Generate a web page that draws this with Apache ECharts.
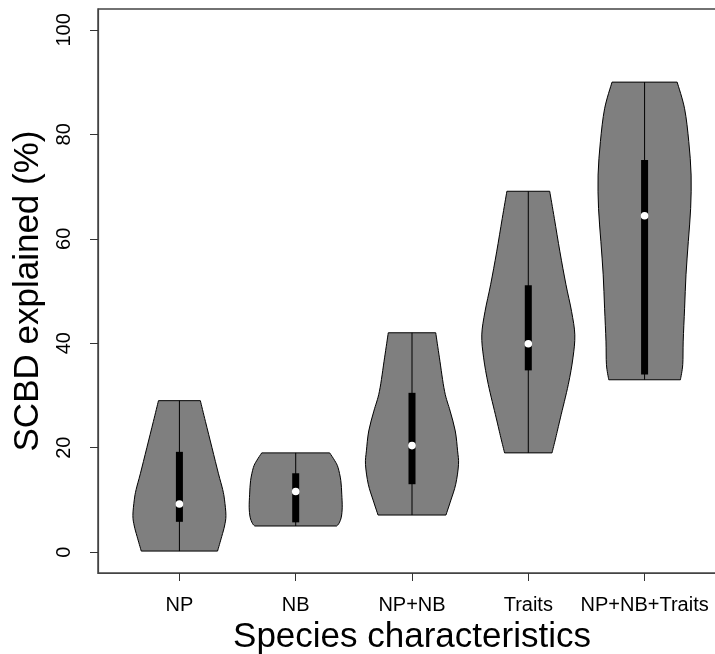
<!DOCTYPE html>
<html>
<head>
<meta charset="utf-8">
<script src="https://cdn.jsdelivr.net/npm/echarts@6/dist/echarts.min.js"></script>
<style>
html, body { margin: 0; padding: 0; background: #fff; }
#chart { width: 715px; height: 654px; }
</style>
</head>
<body>
<div id="chart"></div>
<script>
var categories = ['NP', 'NB', 'NP+NB', 'Traits', 'NP+NB+Traits'];
var yTicks = [0, 20, 40, 60, 80, 100];

// box-plot summary
var medians = [9.2, 11.6, 20.4, 39.9, 64.4];
var q1 = [5.8, 5.7, 13.0, 34.8, 34.0];
var q3 = [19.2, 15.1, 30.5, 51.1, 75.1];
var mins = [0.2, 5.0, 7.1, 19.0, 33.0];
var maxs = [29.0, 19.0, 42.0, 69.1, 90.0];

// violin outline: y values (top -> bottom) and relative half width (1 = widest)
var densY = [
  [29.0, 25.0, 20.0, 15.0, 12.0, 10.0, 7.0, 5.0, 3.0, 0.2],
  [19.0, 17.5, 16.2, 13.7, 11.1, 8.6, 6.7, 5.5, 5.0],
  [42.0, 37.2, 30.8, 27.0, 23.2, 19.4, 16.8, 13.0, 9.8, 7.1],
  [69.1, 63.9, 57.5, 51.2, 46.1, 41.6, 37.2, 32.1, 25.7, 21.9, 19.0],
  [90.0, 84.9, 78.6, 72.2, 65.8, 59.5, 53.1, 46.7, 40.4, 35.9, 33.0]
];
var densW = [
  [0.45, 0.56, 0.70, 0.84, 0.93, 0.97, 1.00, 0.97, 0.91, 0.82],
  [0.73, 0.84, 0.91, 0.97, 0.99, 1.00, 0.98, 0.93, 0.88],
  [0.51, 0.59, 0.70, 0.82, 0.93, 0.98, 1.00, 0.94, 0.83, 0.73],
  [0.46, 0.56, 0.68, 0.81, 0.93, 1.00, 0.96, 0.86, 0.69, 0.59, 0.51],
  [0.70, 0.86, 0.95, 1.00, 0.99, 0.94, 0.89, 0.86, 0.83, 0.82, 0.77]
];

var halfMax = 0.4; // widest half width, in x units
var fontName = '"Liberation Sans", Arial, sans-serif';

// smooth curve through points (catmull-rom as cubic bezier)
function curveThrough(pts) {
  var d = '';
  for (var i = 0; i < pts.length - 1; i++) {
    var p0 = pts[i - 1] || pts[i];
    var p1 = pts[i];
    var p2 = pts[i + 1];
    var p3 = pts[i + 2] || pts[i + 1];
    var c1x = p1[0] + (p2[0] - p0[0]) / 6, c1y = p1[1] + (p2[1] - p0[1]) / 6;
    var c2x = p2[0] - (p3[0] - p1[0]) / 6, c2y = p2[1] - (p3[1] - p1[1]) / 6;
    d += ' C' + c1x + ' ' + c1y + ' ' + c2x + ' ' + c2y + ' ' + p2[0] + ' ' + p2[1];
  }
  return d;
}

function renderViolin(params, api) {
  var k = params.dataIndex;
  var xc = api.value(0);
  var left = [], right = [];
  for (var j = 0; j < densY[k].length; j++) {
    left.push(api.coord([xc - densW[k][j] * halfMax, densY[k][j]]));
    right.push(api.coord([xc + densW[k][j] * halfMax, densY[k][j]]));
  }
  right.reverse();
  var d = 'M' + left[0][0] + ' ' + left[0][1] + curveThrough(left) +
    ' L' + right[0][0] + ' ' + right[0][1] + curveThrough(right) + ' Z';

  var top = api.coord([xc, maxs[k]]);
  var bot = api.coord([xc, mins[k]]);
  var b3 = api.coord([xc, q3[k]]);
  var b1 = api.coord([xc, q1[k]]);
  var med = api.coord([xc, medians[k]]);

  return {
    type: 'group',
    children: [
      { type: 'path', shape: { pathData: d },
        style: { fill: '#7f7f7f', stroke: '#000', lineWidth: 1 } },
      { type: 'line', shape: { x1: top[0], y1: top[1], x2: bot[0], y2: bot[1] },
        style: { stroke: '#000', lineWidth: 1 } },
      { type: 'rect', shape: { x: b3[0] - 3.5, y: b3[1], width: 7, height: b1[1] - b3[1] },
        style: { fill: '#000' } },
      { type: 'circle', shape: { cx: med[0], cy: med[1], r: 3.8 },
        style: { fill: '#fff' } }
    ]
  };
}

var chart = echarts.init(document.getElementById('chart'));
chart.setOption({
  animation: false,
  backgroundColor: '#fff',
  grid: {
    left: 98, top: 9, width: 628, height: 564,
    show: true, borderColor: '#444', borderWidth: 1.5,
    outerBoundsMode: 'none'
  },
  xAxis: {
    type: 'value',
    min: 0.3, max: 5.7,
    axisLine: { show: true, onZero: false, lineStyle: { color: '#444', width: 1.2 } },
    axisTick: { show: true, customValues: [1, 2, 3, 4, 5], length: 8, lineStyle: { color: '#333' } },
    axisLabel: {
      customValues: [1, 2, 3, 4, 5],
      formatter: function (v) { return categories[Math.round(v) - 1]; },
      fontSize: 20, color: '#000', fontFamily: fontName, margin: 22
    },
    splitLine: { show: false },
    name: 'Species characteristics',
    nameLocation: 'middle', nameGap: 39,
    nameTextStyle: { fontSize: 35, color: '#000', fontFamily: fontName }
  },
  yAxis: {
    type: 'value',
    min: -4, max: 104,
    axisLine: { show: true, onZero: false, lineStyle: { color: '#444', width: 1.2 } },
    axisTick: { show: true, customValues: yTicks, length: 8, lineStyle: { color: '#333' } },
    axisLabel: {
      customValues: yTicks, rotate: 90,
      fontSize: 20, color: '#000', fontFamily: fontName, margin: 24
    },
    splitLine: { show: false },
    name: 'SCBD explained (%)',
    nameLocation: 'middle', nameRotate: 90, nameGap: 45,
    nameTextStyle: { fontSize: 35, color: '#000', fontFamily: fontName }
  },
  series: [{
    type: 'custom',
    renderItem: renderViolin,
    encode: { x: 0, y: 1 },
    data: categories.map(function (c, i) { return [i + 1, medians[i]]; })
  }]
});
</script>
</body>
</html>
